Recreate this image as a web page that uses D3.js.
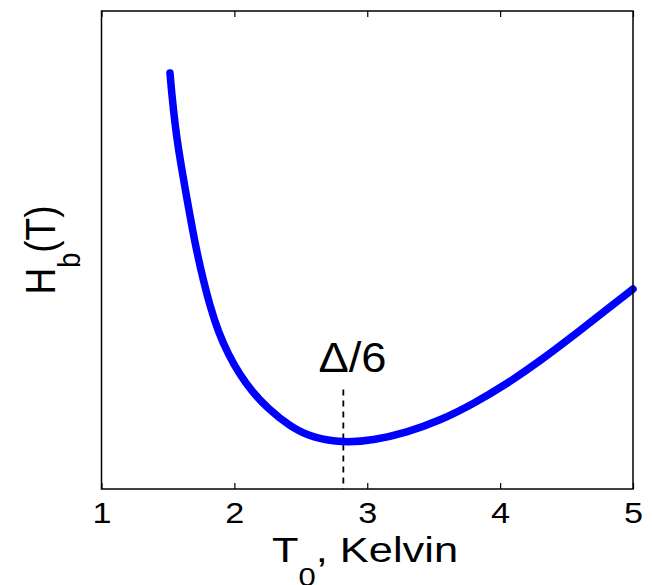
<!DOCTYPE html>
<html>
<head>
<meta charset="utf-8">
<script src="https://cdn.jsdelivr.net/npm/d3@7"></script>
<style>
  html, body { margin: 0; padding: 0; background: #fff; }
  svg { display: block; font-family: "Liberation Sans", Arial, Helvetica, sans-serif; }
</style>
</head>
<body>
<svg id="chart" width="653" height="585"></svg>
<script>
// Temperature T0 (Kelvin) and barrier height H_b (arbitrary units)
const temperature = [1.5155, 1.5283, 1.5531, 1.5780, 1.6036, 1.6284, 1.6788, 1.7165,
                     1.7661, 1.8166, 1.8790, 1.9543, 2.0423, 2.1327, 2.2433, 2.4186,
                     2.5917, 2.8175, 3.0433, 3.2969, 3.5475, 3.7959, 4.0495, 4.300,
                     4.548, 4.802, 5.0];
const barrier = [8.703, 8.285, 7.636, 7.134, 6.705, 6.297, 5.523, 4.969,
                 4.372, 3.828, 3.285, 2.814, 2.385, 2.040, 1.705, 1.303,
                 1.067, 0.969, 1.015, 1.182, 1.433, 1.778, 2.197, 2.678,
                 3.201, 3.755, 4.184];
const xTicks = [1, 2, 3, 4, 5];
const minimumT = 2.82;      // Δ/6 marker position
const markerTop = 2.08;     // upper end of the dashed marker (H_b units)

const svg = d3.select("#chart");
const plotLeft = 101.5, plotRight = 633, plotTop = 11, plotBottom = 489;
const stretch = 1.14;       // horizontal widening of the tick digits

const x = d3.scaleLinear().domain([1, 5]).range([plotLeft, plotRight]);
const y = d3.scaleLinear().domain([0, 10]).range([plotBottom, plotTop]);

// bottom axis with inward ticks
const xAxis = svg.append("g")
  .attr("transform", `translate(0,${plotBottom})`)
  .call(d3.axisBottom(x).tickValues(xTicks).tickFormat(d3.format("d"))
        .tickSizeInner(-6).tickSizeOuter(0));
xAxis.select(".domain").remove();
xAxis.selectAll(".tick line").attr("stroke", "#000").attr("stroke-width", 1.2);
xAxis.selectAll(".tick text")
  .attr("y", 34).attr("dy", null)
  .attr("transform", `scale(${stretch},1)`)
  .attr("fill", "#000")
  .style("font-size", "30px")
  .style("font-family", "'Liberation Sans', Arial, sans-serif");

// mirrored ticks on the top edge
const xTop = svg.append("g")
  .attr("transform", `translate(0,${plotTop})`)
  .call(d3.axisTop(x).tickValues(xTicks).tickFormat("")
        .tickSizeInner(-6).tickSizeOuter(0));
xTop.select(".domain").remove();
xTop.selectAll(".tick line").attr("stroke", "#000").attr("stroke-width", 1.2);

// dashed marker at the minimum
svg.append("line")
  .attr("x1", x(minimumT)).attr("x2", x(minimumT))
  .attr("y1", y(markerTop)).attr("y2", y(0))
  .attr("stroke", "#000").attr("stroke-width", 1.8)
  .attr("stroke-dasharray", "6,5");

// barrier curve (smoothed through the sampled values)
const line = d3.line()
  .x((d, i) => x(temperature[i]))
  .y(d => y(d))
  .curve(d3.curveBasis);

svg.append("path")
  .datum(barrier)
  .attr("d", line)
  .attr("fill", "none")
  .attr("stroke", "#0000ff")
  .attr("stroke-width", 7.5)
  .attr("stroke-linecap", "round")
  .attr("stroke-linejoin", "round");

// frame
svg.append("rect")
  .attr("x", plotLeft).attr("y", plotTop)
  .attr("width", plotRight - plotLeft).attr("height", plotBottom - plotTop)
  .attr("fill", "none").attr("stroke", "#000").attr("stroke-width", 1.5);

// Δ/6 annotation
svg.append("text")
  .attr("transform", `translate(352.5,371.7) scale(1.08,1)`)
  .attr("text-anchor", "middle")
  .attr("font-size", 42)
  .attr("fill", "#000")
  .text("Δ/6");

// x-axis title
const xt = svg.append("text")
  .attr("transform", `translate(365,561.7) scale(1.24,1)`)
  .attr("text-anchor", "middle")
  .attr("font-size", 35)
  .attr("fill", "#000");
xt.append("tspan").text("T");
xt.append("tspan").attr("font-size", 25).attr("dy", 24).text("0");
xt.append("tspan").attr("dy", -24).text(", Kelvin");

// y-axis title
const yt = svg.append("text")
  .attr("transform", `translate(55,250) scale(1.15,1) rotate(-90)`)
  .attr("text-anchor", "middle")
  .attr("font-size", 37)
  .attr("fill", "#000");
yt.append("tspan").text("H");
yt.append("tspan").attr("font-size", 27).attr("dy", 22).text("b");
yt.append("tspan").attr("dy", -22).text("(T)");
</script>
</body>
</html>
